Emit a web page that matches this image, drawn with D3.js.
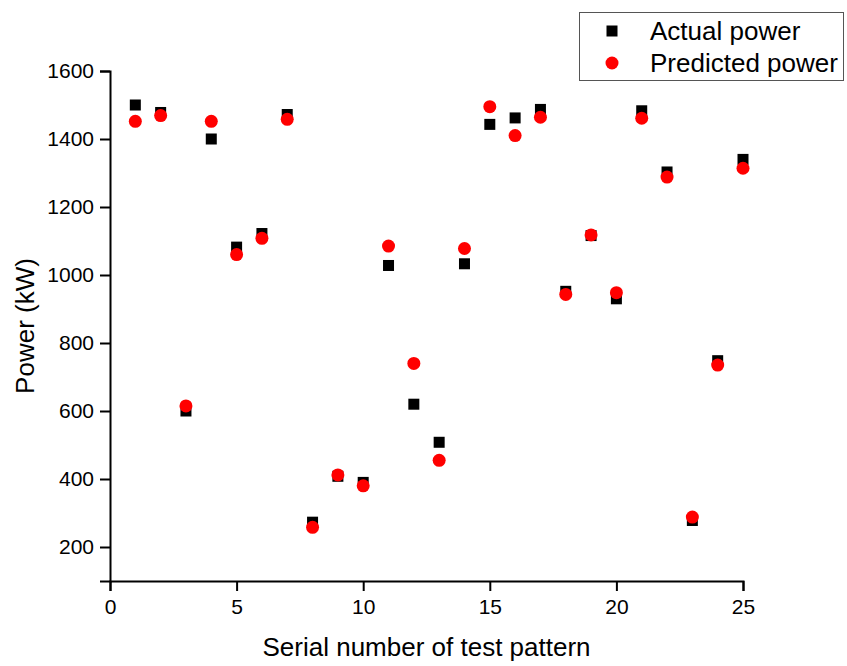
<!DOCTYPE html>
<html>
<head>
<meta charset="utf-8">
<script src="https://cdn.jsdelivr.net/npm/d3@7"></script>
<style>
  body { margin: 0; background: #fff; }
  svg { display: block; font-family: Arial, "Liberation Sans", sans-serif; }
</style>
</head>
<body>
<div id="chart"></div>
<script>
const patterns = d3.range(1, 26);
const actualPower = [1500, 1478, 600, 1400, 1082, 1122, 1472, 273, 408, 390,
    1028, 620, 508, 1033, 1443, 1462, 1487, 952, 1116, 930,
    1483, 1303, 278, 748, 1340];
const predictedPower = [1452, 1469, 615, 1452, 1060, 1108, 1458, 258, 412, 380,
    1085, 740, 455, 1078, 1495, 1410, 1464, 943, 1118, 948,
    1461, 1288, 288, 735, 1314];
const xTicks = [0, 5, 10, 15, 20, 25];
const yTicks = [200, 400, 600, 800, 1000, 1200, 1400, 1600];
const legendLabels = ['Actual power', 'Predicted power'];

const width = 847;
const height = 666;
const margin = { top: 71, right: 104, bottom: 85, left: 110 };

const svg = d3.select('#chart')
    .append('svg')
        .attr('width', width)
        .attr('height', height);

const x = d3.scaleLinear()
    .domain([0, 25])
    .range([margin.left, width - margin.right]);

const y = d3.scaleLinear()
    .domain([100, 1600])
    .range([height - margin.bottom, margin.top]);

// x axis, major and minor ticks
const xAxis = svg.append('g')
    .attr('transform', `translate(0,${height - margin.bottom})`);
xAxis.call(d3.axisBottom(x).tickValues(d3.range(0, 25.1, 2.5)).tickSize(5).tickFormat(''));
xAxis.call(d3.axisBottom(x).tickValues(xTicks).tickSize(10).tickPadding(8).tickFormat(d3.format('d')));

// y axis
const yAxis = svg.append('g')
    .attr('transform', `translate(${margin.left},0)`);
yAxis.call(d3.axisLeft(y).tickValues(d3.range(100, 1601, 100)).tickSize(5).tickFormat(''));
yAxis.call(d3.axisLeft(y).tickValues(yTicks).tickSize(10).tickPadding(6).tickFormat(d3.format('d')));

svg.selectAll('.domain').attr('stroke', '#000').attr('stroke-width', 2);
svg.selectAll('.tick line').attr('stroke', '#000').attr('stroke-width', 2);
svg.selectAll('.tick text')
    .attr('fill', '#000')
    .style('font-size', '21px')
    .style('font-family', 'Arial, "Liberation Sans", sans-serif');

// axis titles
svg.append('text')
    .attr('x', (margin.left + width - margin.right) / 2)
    .attr('y', 656)
    .attr('text-anchor', 'middle')
    .style('font-size', '26px')
    .text('Serial number of test pattern');

svg.append('text')
    .attr('transform', `translate(34,${(margin.top + height - margin.bottom) / 2}) rotate(-90)`)
    .attr('text-anchor', 'middle')
    .style('font-size', '26px')
    .text('Power (kW)');

// points
const sq = 11;
svg.append('g')
    .selectAll('rect')
    .data(patterns)
    .join('rect')
        .attr('x', (d, i) => x(d) - sq / 2)
        .attr('y', (d, i) => y(actualPower[i]) - sq / 2)
        .attr('width', sq)
        .attr('height', sq)
        .attr('fill', '#000');

svg.append('g')
    .selectAll('circle')
    .data(patterns)
    .join('circle')
        .attr('cx', d => x(d))
        .attr('cy', (d, i) => y(predictedPower[i]))
        .attr('r', 6.5)
        .attr('fill', '#ff0000');

// legend
const legend = svg.append('g');
legend.append('rect')
    .attr('x', 579.5)
    .attr('y', 12.5)
    .attr('width', 264)
    .attr('height', 68)
    .attr('fill', '#fff')
    .attr('stroke', '#555')
    .attr('stroke-width', 1);

legend.append('rect')
    .attr('x', 612 - sq / 2)
    .attr('y', 31 - sq / 2)
    .attr('width', sq)
    .attr('height', sq)
    .attr('fill', '#000');
legend.append('circle')
    .attr('cx', 612)
    .attr('cy', 63)
    .attr('r', 6.5)
    .attr('fill', '#ff0000');

legend.selectAll('text.leg')
    .data(legendLabels)
    .join('text')
        .attr('class', 'leg')
        .attr('x', 650)
        .attr('y', (d, i) => 40 + i * 32)
        .style('font-size', '26px')
        .text(d => d);
</script>
</body>
</html>
